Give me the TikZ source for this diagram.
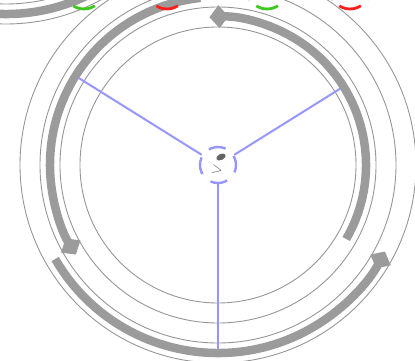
\documentclass[tikz,border=0pt]{standalone}
\definecolor{RingGray}{RGB}{150,150,150}
\definecolor{BandGray}{RGB}{155,155,155}
\definecolor{SpokeBlue}{RGB}{150,150,255}
\definecolor{HubGreen}{RGB}{60,200,30}
\definecolor{HubRed}{RGB}{255,30,30}
\definecolor{DotGray}{RGB}{100,100,100}
\usetikzlibrary{arrows.meta,shapes.geometric}
\tikzset{
  ring/.style={draw=RingGray,line width=0.9pt},
  band/.style={draw=BandGray,line width=8.5pt},
  bandtip/.style={band,-{Diamond[length=19pt,width=23pt]}},
  spoke/.style={draw=SpokeBlue,line width=2pt},
  hub/.style={circle,draw=SpokeBlue,line width=2.4pt,minimum size=36pt,inner sep=0pt,
    dash pattern=on 17.3pt off 11pt,dash phase=7.9pt},
  sidehub/.style={circle,draw=#1,line width=2.8pt,minimum size=40pt,inner sep=0pt,
    dash pattern=on 22.7pt off 8.7pt,dash phase=11.3pt},
}

\begin{document}
\begin{tikzpicture}[x=1pt,y=1pt]
    \useasboundingbox (-218,-196) rectangle (197,165);
    \clip (-218,-196) rectangle (197,165);
    \coordinate (mid) at (0,0);
    \coordinate (nb) at (-212,339);
    \foreach \r in {138,158,178,198} \draw[ring] (mid) circle[radius=\r];
    \foreach \r in {178,198} \draw[ring] (nb) circle[radius=\r];
    \draw[bandtip] (mid) ++(330:148) arc[start angle=330,end angle=453.3,radius=148];
    \draw[bandtip] (mid) ++(96:168) arc[start angle=96,end angle=212.2,radius=168];
    \draw[bandtip] (mid) ++(210:188) arc[start angle=210,end angle=332.6,radius=188];
    \draw[bandtip] (nb) ++(210:188) arc[start angle=210,end angle=332.6,radius=188];
    \node[hub] (hub) at (mid) {};
    \node[sidehub=HubGreen] (ha) at (-134,176) {};
    \node[sidehub=HubRed] (hb) at (-51,176) {};
    \node[sidehub=HubGreen] (hc) at (49,176) {};
    \node[sidehub=HubRed] (hd) at (132,176) {};
    \coordinate (ua) at (148:164);
    \coordinate (ub) at (32:144);
    \coordinate (uc) at (270:184);
    \draw[spoke] (hub) -- (ua); \draw[spoke] (hub) -- (ub); \draw[spoke] (hub) -- (uc);
    \node[ellipse,fill=DotGray,rotate=25,minimum width=10pt,minimum height=6pt,inner sep=0pt] (dot) at (3,8) {};
    \node[text=DotGray,scale=1.5,rotate=-12,inner sep=0pt] (mark) at (-1,-5) {$>$};
  \end{tikzpicture}
\end{document}
